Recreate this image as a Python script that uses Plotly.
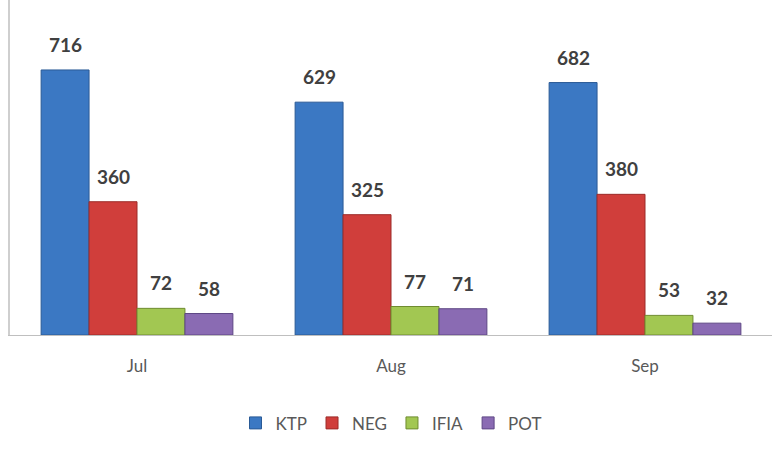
import plotly.graph_objects as go

months = ["Jul", "Aug", "Sep"]
series_names = ["KTP", "NEG", "IFIA", "POT"]
ktp = [716, 629, 682]
neg = [360, 325, 380]
ifia = [72, 77, 53]
pot = [58, 71, 32]

values = [ktp, neg, ifia, pot]
fills = ["#3b78c3", "#d03e3b", "#a2c752", "#8a6bb3"]
lines = ["#2a5a96", "#9c2b28", "#6f8c30", "#5e4785"]

fig = go.Figure()
for name, vals, fc, lc in zip(series_names, values, fills, lines):
    fig.add_trace(go.Bar(
        name=name, x=months, y=vals,
        marker=dict(color=fc, line=dict(color=lc, width=1)),
        hoverinfo="skip",
    ))

bar_px = 48
annotations = []
for i, vals in enumerate(values):
    for m, v in zip(months, vals):
        annotations.append(dict(
            x=m, y=v, xref="x", yref="y", text="<b>%d</b>" % v,
            showarrow=False, yanchor="bottom", xanchor="center",
            xshift=(i - 1.5) * bar_px, yshift=12,
            font=dict(family="Lato", size=19, color="#404040"),
        ))

fig.update_layout(
    width=773, height=456,
    margin=dict(l=10, r=1, t=0, b=121, autoexpand=False),
    paper_bgcolor="white", plot_bgcolor="white",
    barmode="group", bargap=0.245, bargroupgap=0,
    font=dict(family="Lato", color="#595959"),
    showlegend=True,
    legend=dict(orientation="h", x=0.5, xanchor="center", y=-0.21, yanchor="top",
                font=dict(family="Lato", size=17, color="#595959"),
                itemwidth=30, traceorder="normal"),
    annotations=annotations,
    xaxis=dict(showline=True, linecolor="#bfbfbf", linewidth=1, ticks="",
               tickfont=dict(family="Lato", size=17, color="#595959"),
               ticklabelstandoff=16,
               showgrid=False, zeroline=False),
    yaxis=dict(range=[0, 905], showticklabels=False, showgrid=False, zeroline=False,
               showline=True, linecolor="#cfcfcf", linewidth=1.5, ticks=""),
)

fig.write_html("out.html", config={"displayModeBar": False},
               post_script="document.body.style.margin='0';document.body.style.overflow='hidden';")
